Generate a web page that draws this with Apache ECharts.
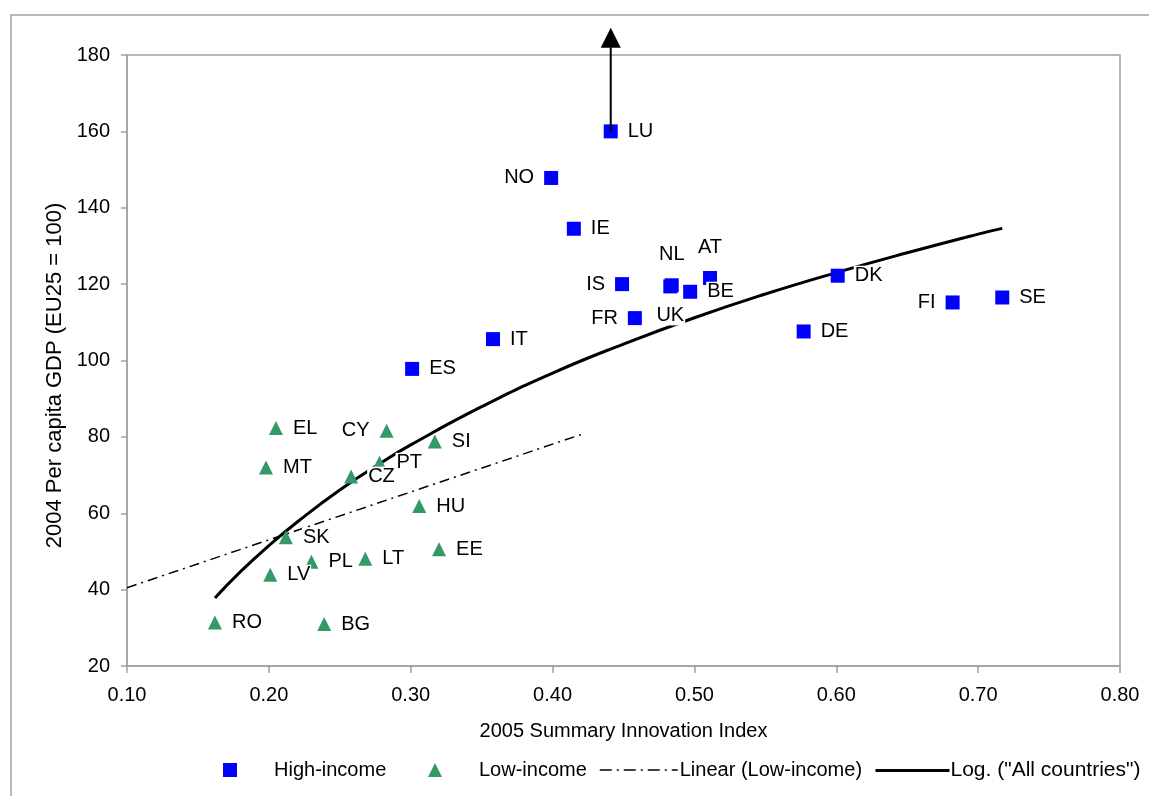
<!DOCTYPE html>
<html>
<head>
<meta charset="utf-8">
<title>Innovation index vs. per capita GDP</title>
<script src="https://cdn.jsdelivr.net/npm/echarts@6/dist/echarts.min.js"></script>
<style>
  html, body { margin: 0; padding: 0; background: #fff; }
  #chart { width: 1149px; height: 796px; }
</style>
</head>
<body>
<div id="chart"></div>
<script>
// High-income countries: 2005 Summary Innovation Index vs 2004 GDP per capita (EU25 = 100)
const highNames = ['LU', 'NO', 'IE', 'IS', 'NL', 'UK', 'AT', 'BE', 'FR', 'IT', 'ES', 'DK', 'DE', 'FI', 'SE'];
const highX = [0.441, 0.399, 0.415, 0.449, 0.484, 0.483, 0.511, 0.497, 0.458, 0.358, 0.301, 0.601, 0.577, 0.682, 0.717];
const highY = [160.0, 147.8, 134.5, 120.0, 119.7, 119.4, 121.6, 118.0, 111.1, 105.6, 97.8, 122.2, 107.6, 115.2, 116.5];

// Low-income countries
const lowNames = ['EL', 'CY', 'SI', 'MT', 'PT', 'CZ', 'HU', 'SK', 'EE', 'PL', 'LT', 'LV', 'RO', 'BG'];
const lowX = [0.205, 0.283, 0.317, 0.198, 0.278, 0.258, 0.306, 0.212, 0.320, 0.230, 0.268, 0.201, 0.162, 0.239];
const lowY = [82.3, 81.6, 78.8, 72.0, 73.2, 69.6, 61.9, 53.7, 50.6, 47.3, 48.1, 43.9, 31.4, 31.0];

// Linear trend for the low-income group (end points)
const linX = [0.10, 0.42];
const linY = [40.5, 80.6];

// Logarithmic trend over all countries (points along the curve)
const logX = [0.162, 0.18, 0.20, 0.22, 0.25, 0.28, 0.30, 0.35, 0.40, 0.45, 0.50, 0.55, 0.60, 0.65, 0.70, 0.717];
const logY = [37.8, 44.7, 51.5, 57.7, 66.1, 73.4, 77.9, 87.9, 96.7, 104.3, 111.2, 117.4, 123.0, 128.2, 133.1, 134.6];

// Luxembourg lies off the scale: arrow drawn from its point up past the top
const luArrowLineEnd = 182.0;
const luArrowHead = 184.5;

// Axis ticks
const xTicks = { min: 0.10, max: 0.80, step: 0.10 };
const yTicks = { min: 20, max: 180, step: 20 };

// Label placement per country (default: right of the marker)
const labelSide = { NO: 'left', IS: 'left', FR: 'left', FI: 'left', CY: 'left', NL: 'top', AT: 'top', UK: 'bottom' };
const labelGap = { NL: 14, AT: 14, UK: 12 };

const FONT = "'Liberation Sans', Arial, sans-serif";
const AXIS_GRAY = '#a0a0a0';

function pointData(names, xs, ys) {
  return names.map((n, i) => ({
    name: n,
    value: [xs[i], ys[i]],
    label: {
      position: labelSide[n] || 'right',
      distance: labelGap[n] || 9
    }
  }));
}

const pointLabel = {
  show: true,
  formatter: p => p.name,
  color: '#000',
  opacity: 1,
  fontFamily: FONT,
  fontSize: 20,
  backgroundColor: '#fff',
  padding: [0, 1]
};

const luIdx = highNames.indexOf('LU');
const luX = highX[luIdx];
const luY = highY[luIdx];

const legendText = { color: '#000', fontSize: 20, fontFamily: FONT };
// line legends show only the stroke, no marker
const hiddenMarker = { color: 'transparent', opacity: 0, borderWidth: 0 };

const chart = echarts.init(document.getElementById('chart'), null, { renderer: 'canvas' });

chart.setOption({
  animation: false,
  backgroundColor: '#fff',
  textStyle: { fontFamily: FONT },
  graphic: [{
    type: 'rect',
    z: -10,
    silent: true,
    shape: { x: 11, y: 15, width: 1400, height: 1000 },
    style: { fill: 'none', stroke: AXIS_GRAY, lineWidth: 1.5 }
  }],
  grid: {
    left: 127, right: 29, top: 55, bottom: 130,
    show: true, borderColor: AXIS_GRAY, borderWidth: 1.5, backgroundColor: 'transparent'
  },
  xAxis: {
    type: 'value',
    min: xTicks.min, max: xTicks.max, interval: xTicks.step,
    name: '2005 Summary Innovation Index',
    nameLocation: 'middle',
    nameGap: 55,
    nameTextStyle: { color: '#000', fontSize: 20, fontFamily: FONT },
    axisLine: { show: true, lineStyle: { color: AXIS_GRAY, width: 1.5 } },
    axisTick: { show: true, inside: false, length: 7, lineStyle: { color: AXIS_GRAY, width: 1.5 } },
    axisLabel: { color: '#000', fontSize: 20, fontFamily: FONT, margin: 19, formatter: v => v.toFixed(2) },
    splitLine: { show: false }
  },
  yAxis: {
    type: 'value',
    min: yTicks.min, max: yTicks.max, interval: yTicks.step,
    name: '2004 Per capita GDP (EU25 = 100)',
    nameLocation: 'middle',
    nameGap: 61,
    nameRotate: 90,
    nameTextStyle: { color: '#000', fontSize: 22, fontFamily: FONT, padding: [0, 30, 0, 0] },
    axisLine: { show: true, lineStyle: { color: AXIS_GRAY, width: 1.5 } },
    axisTick: { show: true, inside: false, length: 6, lineStyle: { color: AXIS_GRAY, width: 1.5 } },
    axisLabel: { color: '#000', fontSize: 20, fontFamily: FONT, margin: 17 },
    splitLine: { show: false }
  },
  legend: [
    {
      data: [{ name: 'High-income', icon: 'rect' }],
      left: 223, top: 760, padding: 0, itemWidth: 14, itemHeight: 14,
      textStyle: Object.assign({ padding: [0, 0, 0, 32] }, legendText),
      selectedMode: false
    },
    {
      data: [{ name: 'Low-income', icon: 'triangle' }],
      left: 428, top: 760, padding: 0, itemWidth: 14, itemHeight: 14,
      textStyle: Object.assign({ padding: [0, 0, 0, 32] }, legendText),
      selectedMode: false
    },
    {
      data: ['Linear (Low-income)'],
      left: 599, top: 760, padding: 0, itemWidth: 78, itemHeight: 14,
      itemStyle: hiddenMarker,
      lineStyle: { color: '#000', width: 1.5, type: [12, 5, 2, 5] },
      textStyle: Object.assign({ padding: [0, 0, 0, -3] }, legendText),
      selectedMode: false
    },
    {
      data: ['Log. ("All countries")'],
      left: 874, top: 760, padding: 0, itemWidth: 74, itemHeight: 14,
      itemStyle: hiddenMarker,
      lineStyle: { color: '#000', width: 3 },
      textStyle: Object.assign({}, legendText, { fontSize: 21, padding: [0, 0, 0, -4] }),
      selectedMode: false
    }
  ],
  series: [
    {
      name: 'Linear (Low-income)',
      type: 'line',
      z: 1,
      symbol: 'none',
      silent: true,
      data: linX.map((x, i) => [x, linY[i]]),
      itemStyle: { color: '#000' },
      lineStyle: { color: '#000', width: 1.5, type: [10, 5, 2, 5] }
    },
    {
      name: 'Log. ("All countries")',
      type: 'line',
      z: 1,
      symbol: 'none',
      smooth: true,
      silent: true,
      data: logX.map((x, i) => [x, logY[i]]),
      itemStyle: { color: '#000' },
      lineStyle: { color: '#000', width: 3 }
    },
    {
      name: 'High-income',
      type: 'scatter',
      z: 2,
      symbol: 'rect',
      symbolSize: 14,
      itemStyle: { color: '#0000ff', opacity: 1 },
      label: pointLabel,
      data: pointData(highNames, highX, highY)
    },
    {
      name: 'Low-income',
      type: 'scatter',
      z: 2,
      symbol: 'triangle',
      symbolSize: 14,
      itemStyle: { color: '#339966', opacity: 1 },
      label: pointLabel,
      data: pointData(lowNames, lowX, lowY)
    },
    {
      name: 'LU arrow',
      type: 'line',
      z: 3,
      clip: false,
      symbol: 'none',
      silent: true,
      data: [[luX, luY], [luX, luArrowLineEnd]],
      lineStyle: { color: '#000', width: 2 }
    },
    {
      name: 'LU arrow head',
      type: 'scatter',
      z: 3,
      clip: false,
      silent: true,
      symbol: 'triangle',
      symbolSize: 20,
      itemStyle: { color: '#000', opacity: 1 },
      data: [[luX, luArrowHead]]
    }
  ]
});
</script>
</body>
</html>
